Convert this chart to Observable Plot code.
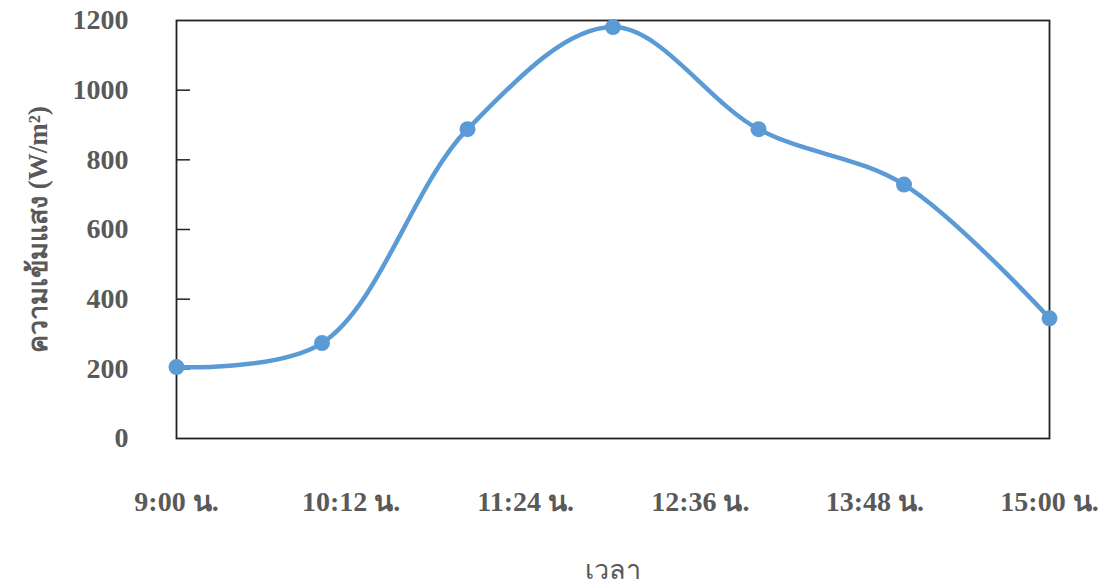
<!DOCTYPE html>
<html>
<head>
<meta charset="utf-8">
<script src="https://cdn.jsdelivr.net/npm/d3@7"></script>
<script src="https://cdn.jsdelivr.net/npm/@observablehq/plot@0.6"></script>
<style>
  html, body { margin: 0; padding: 0; background: #fff; }
  #chart svg { display: block; }
</style>
</head>
<body>
<div id="chart"></div>
<script>
const times = ["9:00", "10:00", "11:00", "12:00", "13:00", "14:00", "15:00"];
const intensity = [205, 274, 888, 1181, 888, 729, 345];
const xTickLabels = ["9:00", "10:12", "11:24", "12:36", "13:48", "15:00"];
const yTicks = [0, 200, 400, 600, 800, 1000, 1200];
const yTitle = "ความเข้มแสง (W/m²)";
const xTitle = "เวลา";

const toMin = s => { const [h, m] = s.split(":").map(Number); return h * 60 + m; };
const fmt = v => `${Math.floor(v / 60)}:${String(Math.round(v % 60)).padStart(2, "0")} น.`;
const data = times.map((t, i) => ({ t: toMin(t), v: intensity[i] }));
const xTicks = xTickLabels.map(toMin);

const textColor = "#595959";
const font = "'Liberation Serif', 'Times New Roman', serif";

const chart = Plot.plot({
  width: 1107,
  height: 587,
  marginLeft: 176,
  marginRight: 58,
  marginTop: 20,
  marginBottom: 149,
  style: { fontFamily: font, background: "#fff" },
  x: { type: "linear", domain: [toMin("9:00"), toMin("15:00")] },
  y: { domain: [0, 1200] },
  marks: [
    Plot.axisX({
      ticks: xTicks, tickFormat: fmt, tickSize: 0, tickPadding: 53,
      fontSize: 28, fontWeight: "bold", fill: textColor, label: null
    }),
    Plot.axisY({
      ticks: yTicks, tickFormat: d => String(d), tickSize: 0, tickPadding: 48,
      fontSize: 28, fontWeight: "bold", fill: textColor, label: null
    }),
    Plot.tickY(yTicks.slice(1, -1), { y: d => d, stroke: "#222", strokeWidth: 1.5, insetRight: 859 }),
    Plot.frame({ stroke: "#222", strokeWidth: 1.8 }),
    Plot.line(data, { x: "t", y: "v", curve: "catmull-rom", stroke: "#5B9BD5", strokeWidth: 4.5 }),
    Plot.dot(data, { x: "t", y: "v", r: 8, fill: "#5B9BD5", stroke: "none" }),
    Plot.text([yTitle], {
      text: d => d, frameAnchor: "left", textAnchor: "middle", dx: -138, rotate: -90,
      fontSize: 27, fontWeight: "bold", fill: textColor
    }),
    Plot.text([xTitle], {
      text: d => d, frameAnchor: "bottom", dy: 140,
      fontSize: 27, fontWeight: "normal", fill: textColor
    })
  ]
});
document.getElementById("chart").appendChild(chart);
</script>
</body>
</html>
